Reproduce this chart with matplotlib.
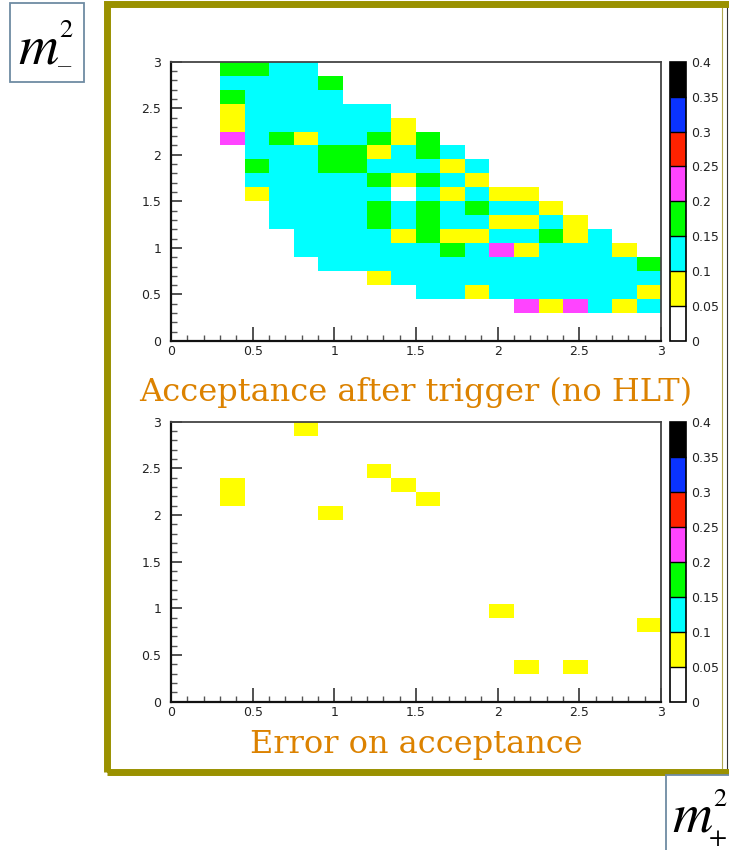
import numpy as np
import matplotlib
matplotlib.use('Agg')
import matplotlib.pyplot as plt
from matplotlib.colors import ListedColormap, BoundaryNorm
from matplotlib.patches import Rectangle
from matplotlib.lines import Line2D

# bin edges (20 x 20 bins on 0..3)
edges = np.linspace(0, 3, 21)

# colour levels of the palette
levels = [0, 0.05, 0.1, 0.15, 0.2, 0.25, 0.3, 0.35, 0.4]
palette = ['#ffffff', '#ffff00', '#00ffff', '#00ff00', '#ff44ff', '#ff2200', '#0a33ff', '#000000']

# acceptance, rows listed from top (y bin 19) down to bottom (y bin 0)
acc_rows = [
    [0, 0, .17, .17, .12, .12, 0, 0, 0, 0, 0, 0, 0, 0, 0, 0, 0, 0, 0, 0],
    [0, 0, .12, .12, .12, .12, .17, 0, 0, 0, 0, 0, 0, 0, 0, 0, 0, 0, 0, 0],
    [0, 0, .17, .12, .12, .12, .12, 0, 0, 0, 0, 0, 0, 0, 0, 0, 0, 0, 0, 0],
    [0, 0, .08, .12, .12, .12, .12, .12, .12, 0, 0, 0, 0, 0, 0, 0, 0, 0, 0, 0],
    [0, 0, .08, .12, .12, .12, .12, .12, .12, .08, 0, 0, 0, 0, 0, 0, 0, 0, 0, 0],
    [0, 0, .22, .12, .17, .08, .12, .12, .17, .08, .17, 0, 0, 0, 0, 0, 0, 0, 0, 0],
    [0, 0, 0, .12, .12, .12, .17, .17, .08, .12, .17, .12, 0, 0, 0, 0, 0, 0, 0, 0],
    [0, 0, 0, .17, .12, .12, .17, .17, .12, .12, .12, .08, .12, 0, 0, 0, 0, 0, 0, 0],
    [0, 0, 0, .12, .12, .12, .12, .12, .17, .08, .17, .12, .08, 0, 0, 0, 0, 0, 0, 0],
    [0, 0, 0, .08, .12, .12, .12, .12, .12, 0, .12, .08, .12, .08, .08, 0, 0, 0, 0, 0],
    [0, 0, 0, 0, .12, .12, .12, .12, .17, .12, .17, .12, .17, .12, .12, .08, 0, 0, 0, 0],
    [0, 0, 0, 0, .12, .12, .12, .12, .17, .12, .17, .12, .12, .08, .08, .12, .08, 0, 0, 0],
    [0, 0, 0, 0, 0, .12, .12, .12, .12, .08, .17, .08, .08, .12, .12, .17, .08, .12, 0, 0],
    [0, 0, 0, 0, 0, .12, .12, .12, .12, .12, .12, .17, .12, .22, .08, .12, .12, .12, .08, 0],
    [0, 0, 0, 0, 0, 0, .12, .12, .12, .12, .12, .12, .12, .12, .12, .12, .12, .12, .12, .17],
    [0, 0, 0, 0, 0, 0, 0, 0, .08, .12, .12, .12, .12, .12, .12, .12, .12, .12, .12, .12],
    [0, 0, 0, 0, 0, 0, 0, 0, 0, 0, .12, .12, .08, .12, .12, .12, .12, .12, .12, .08],
    [0, 0, 0, 0, 0, 0, 0, 0, 0, 0, 0, 0, 0, 0, .22, .08, .22, .12, .08, .12],
    [0] * 20,
    [0] * 20,
]

# error on acceptance: non-empty bins (x bin, y bin, value)
err_xbin = [5, 2, 2, 8, 9, 10, 6, 13, 19, 14, 16]
err_ybin = [19, 15, 14, 16, 15, 14, 13, 6, 5, 2, 2]
err_val = [.06, .06, .06, .06, .06, .06, .06, .06, .06, .06, .06]

tick_vals = [0, 0.5, 1, 1.5, 2, 2.5, 3]
tick_labels = ['0', '0.5', '1', '1.5', '2', '2.5', '3']
cbar_labels = ['0', '0.05', '0.1', '0.15', '0.2', '0.25', '0.3', '0.35', '0.4']

titles = ['Acceptance after trigger (no HLT)', 'Error on acceptance']

acc = np.array(acc_rows)[::-1]
err = np.zeros((20, 20))
for i, j, v in zip(err_xbin, err_ybin, err_val):
    err[j, i] = v

W, H = 729, 850
fig = plt.figure(figsize=(W / 100, H / 100), dpi=100)
plt.rcParams['mathtext.fontset'] = 'stix'

def fx(px):
    return px / W

def fy(py):
    return 1 - py / H

cmap = ListedColormap(palette)
norm = BoundaryNorm(levels, cmap.N)
lab_font = ['Liberation Sans Narrow', 'DejaVu Sans']
orange = '#dc8200'

def panel(z, top, bot, title, title_base):
    ax = fig.add_axes([fx(171), fy(bot), fx(661) - fx(171), (bot - top) / H])
    mesh = ax.pcolormesh(edges, edges, z, cmap=cmap, norm=norm)
    ax.set_xlim(0, 3)
    ax.set_ylim(0, 3)
    ax.set_xticks(tick_vals)
    ax.set_xticklabels(tick_labels)
    ax.set_yticks(tick_vals)
    ax.set_yticklabels(tick_labels)
    ax.set_xticks(np.arange(0, 3.01, 0.1), minor=True)
    ax.set_yticks(np.arange(0, 3.01, 0.1), minor=True)
    ax.tick_params(which='major', direction='in', length=8, width=1.2, color='#333')
    ax.tick_params(which='minor', direction='in', length=4, width=1, color='#555')
    ax.tick_params(axis='x', which='major', length=10, pad=3)
    ax.tick_params(axis='y', pad=7)
    for lb in ax.get_xticklabels() + ax.get_yticklabels():
        lb.set_family(lab_font)
        lb.set_fontsize(9)
        lb.set_color('#222')
    for s in ['left', 'bottom']:
        ax.spines[s].set_linewidth(1.6)
        ax.spines[s].set_color('#111')
    for s in ['top', 'right']:
        ax.spines[s].set_linewidth(1.3)
        ax.spines[s].set_color('#444')

    cax = fig.add_axes([fx(670), fy(bot), fx(686) - fx(670), (bot - top) / H])
    cb = fig.colorbar(mesh, cax=cax, ticks=levels, drawedges=True)
    cb.set_ticklabels(cbar_labels)
    cb.outline.set_linewidth(1.2)
    cb.dividers.set_linewidth(1.0)
    cax.tick_params(length=0, pad=4)
    for lb in cax.get_yticklabels():
        lb.set_family(lab_font)
        lb.set_fontsize(9)
        lb.set_color('#222')

    fig.text(fx(416), fy(title_base), title, color=orange, family='DejaVu Serif',
             fontsize=23, ha='center', va='baseline')

panel(acc, 61.7, 341, titles[0], 401)
panel(err, 421.7, 701.7, titles[1], 753)

# olive frame around the two panels
fig.patches.append(Rectangle((fx(106.5), fy(772)), fx(760) - fx(106.5), fy(4) - fy(772),
                             transform=fig.transFigure, fill=False, edgecolor='#9a9100',
                             linewidth=5, clip_on=False))
fig.lines.append(Line2D([fx(722), fx(722)], [fy(8), fy(768)], transform=fig.transFigure,
                        color='#b0a850', linewidth=0.8))
fig.lines.append(Line2D([fx(726.5), fx(726.5)], [fy(8), fy(768)], transform=fig.transFigure,
                        color='#333', linewidth=0.8))

# axis name boxes
def mass_label(x_m, y_base, sub, sub_dx, sub_dy):
    fig.text(fx(x_m), fy(y_base), r'$m$', fontsize=40, ha='left', va='baseline')
    fig.text(fx(x_m + 41), fy(y_base - 26), '2', family='STIXGeneral', fontsize=19,
             ha='left', va='baseline')
    fig.text(fx(x_m + sub_dx), fy(y_base + sub_dy), sub, family='STIXGeneral', fontsize=19,
             ha='left', va='baseline')

fig.patches.append(Rectangle((fx(10), fy(82)), fx(84) - fx(10), fy(3) - fy(82),
                             transform=fig.transFigure, facecolor='white', edgecolor='#6e8ba3',
                             linewidth=1.3))
mass_label(18, 63, '\u2013', 40, 9)
fig.patches.append(Rectangle((fx(666), fy(860)), fx(760) - fx(666), fy(775) - fy(860),
                             transform=fig.transFigure, facecolor='white', edgecolor='#6e8ba3',
                             linewidth=1.3))
mass_label(672, 832, '+', 37, 13)

fig.savefig('out.png', dpi=100)
